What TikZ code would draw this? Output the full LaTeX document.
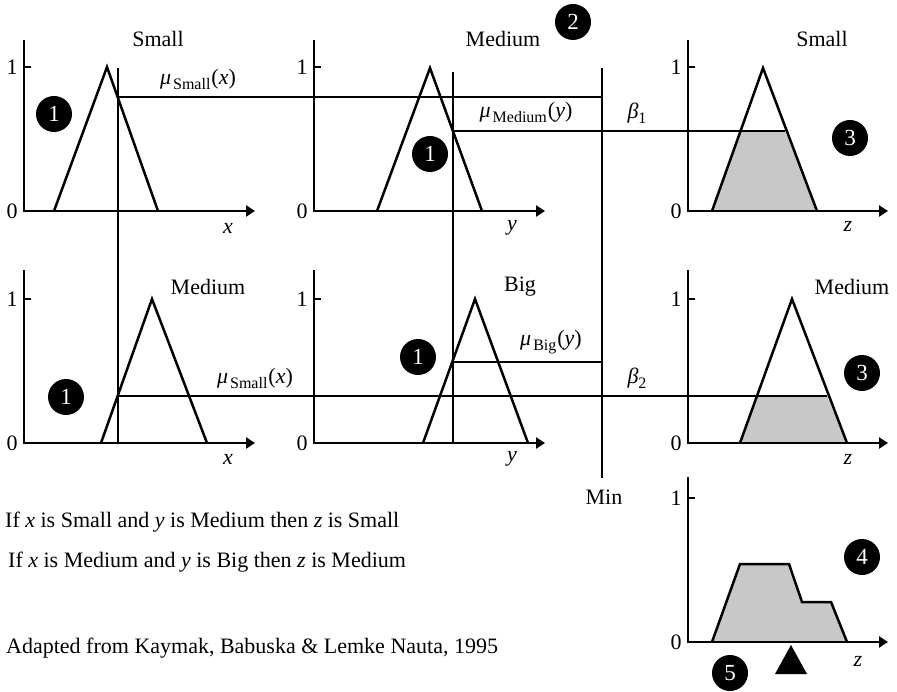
\documentclass[tikz,border=0pt]{standalone}
\usepackage{fontspec}
\setmainfont{Liberation Serif}
\usetikzlibrary{arrows.meta}
\definecolor{shadegray}{RGB}{200,200,200}
\tikzset{
  axisline/.style={line width=2.6pt, line join=miter, -{Triangle[length=9pt,width=11pt]}},
  tickline/.style={line width=2.6pt},
  mfline/.style={line width=2.5pt, line join=miter},
  guide/.style={line width=1.3pt},
  minline/.style={line width=2.8pt},
  badge/.style={circle, fill=black, text=white, minimum size=36pt, inner sep=0pt, font=\fontsize{23}{23}\selectfont},
  lbl/.style={font=\fontsize{22}{26}\selectfont, inner sep=0pt},
  sublbl/.style={font=\fontsize{22}{26}\selectfont, inner sep=0pt},
}
\newcommand\myaxes[6]{% #1 ox, #2 oy, #3 xend, #4 ytop, #5 ytick, #6 name
  \draw[axisline] (#1,#4) -- (#1,#2) -- (#3,#2);
  \draw[tickline] (#1,#5) -- ++(7,0);
  \node[lbl] (one#6) at (#1-12,#5) {1};
  \node[lbl] (zero#6) at (#1-12,#2) {0};
}
\newcommand\mulbl[2]{{\itshape μ}\kern2pt\raisebox{-5pt}{\fontsize{16}{16}\selectfont #1}\kern1pt({\itshape #2})}
\newcommand\betalbl[1]{{\itshape β}\raisebox{-5pt}{\fontsize{16}{16}\selectfont #1}}
\begin{document}
\begin{tikzpicture}[x=1pt,y=-1pt]
\useasboundingbox (0,0) rectangle (897,692);
% shaded areas
\fill[shadegray] (712,211) -- (740,131) -- (785,131) -- (817,211) -- cycle;
\fill[shadegray] (740,443) -- (757,396) -- (827,396) -- (847,443) -- cycle;
\fill[shadegray] (712,642) -- (740,564) -- (789,564) -- (802,602) -- (831,602) -- (847,642) -- cycle;
% axes
\myaxes{24}{211}{255}{40}{67}{a}
\myaxes{314}{211}{545}{40}{67}{b}
\myaxes{688}{211}{888}{40}{67}{c}
\myaxes{24}{443}{255}{270}{299}{d}
\myaxes{314}{443}{545}{270}{299}{e}
\myaxes{688}{443}{888}{270}{299}{f}
\myaxes{688}{642}{888}{477}{498}{g}
% membership functions
\draw[mfline] (54,211) -- (107,67) -- (158,211);
\draw[mfline] (377,211) -- (430,68) -- (482,211);
\draw[mfline] (712,211) -- (763,68) -- (817,211);
\draw[mfline] (101,443) -- (152,299) -- (207,443);
\draw[mfline] (423,443) -- (475,299) -- (528,443);
\draw[mfline] (740,443) -- (792,299) -- (847,443);
\draw[mfline] (712,642) -- (740,564) -- (789,564) -- (802,602) -- (831,602) -- (847,642);
% guide coordinates
\coordinate (v1t) at (118,68);  \coordinate (v1b) at (118,443);
\coordinate (v2t) at (453,72);  \coordinate (v2b) at (453,443);
\coordinate (mint) at (602,68); \coordinate (minb) at (602,478);
\coordinate (h1a) at (118,97);  \coordinate (h1b) at (602,97);
\coordinate (h2a) at (453,131); \coordinate (h2b) at (785,131);
\coordinate (h3a) at (118,396); \coordinate (h3b) at (827,396);
\coordinate (h4a) at (453,362); \coordinate (h4b) at (602,362);
\draw[guide] (v1t) -- (v1b);
\draw[guide] (v2t) -- (v2b);
\draw[guide] (h1a) -- (h1b);
\draw[guide] (h2a) -- (h2b);
\draw[guide] (h3a) -- (h3b);
\draw[guide] (h4a) -- (h4b);
\draw[minline] (mint) -- (minb);
% defuzzified marker
\fill (791,645) -- (807,674) -- (775,674) -- cycle;
% set labels
\node[lbl] (ls1) at (158,39) {Small};
\node[lbl] (lm1) at (503,39) {Medium};
\node[lbl] (ls2) at (822,39) {Small};
\node[lbl] (lm2) at (208,287) {Medium};
\node[lbl] (lb1) at (520,287) {Big};
\node[lbl] (lm3) at (852,287) {Medium};
% mu and beta labels
\node[sublbl] (mu1) at (198,79) {\mulbl{Small}{x}};
\node[sublbl] (mu2) at (526,112) {\mulbl{Medium}{y}};
\node[sublbl] (be1) at (637,113) {\betalbl{1}};
\node[sublbl] (mu3) at (255,378) {\mulbl{Small}{x}};
\node[sublbl] (mu4) at (551,342) {\mulbl{Big}{y}};
\node[sublbl] (be2) at (637,378) {\betalbl{2}};
\node[lbl] (minl) at (604,497) {Min};
% axis variable labels
\node[lbl] (xa) at (228,228) {\itshape x};
\node[lbl] (ya) at (512,228) {\itshape y};
\node[lbl] (za) at (848,226) {\itshape z};
\node[lbl] (xb) at (228,459) {\itshape x};
\node[lbl] (yb) at (512,459) {\itshape y};
\node[lbl] (zb) at (848,459) {\itshape z};
\node[lbl] (zc) at (858,661) {\itshape z};
% badges
\node[badge] (b1a) at (54,114) {1};
\node[badge] (b2) at (573,22) {2};
\node[badge] (b1b) at (430,154) {1};
\node[badge] (b3a) at (850,138) {3};
\node[badge] (b1c) at (66,397) {1};
\node[badge] (b1d) at (418,357) {1};
\node[badge] (b3b) at (862,373) {3};
\node[badge] (b4) at (862,557) {4};
\node[badge] (b5) at (730,673) {5};
% rules and source
\node[lbl, anchor=west] (r1) at (5,522) {If {\itshape x} is Small and {\itshape y} is Medium then {\itshape z} is Small};
\node[lbl, anchor=west] (r2) at (8,562) {If {\itshape x} is Medium and {\itshape y} is Big then {\itshape z} is Medium};
\node[lbl, anchor=west] (src) at (6,648) {Adapted from Kaymak, Babuska \& Lemke Nauta, 1995};
\end{tikzpicture}
\end{document}
